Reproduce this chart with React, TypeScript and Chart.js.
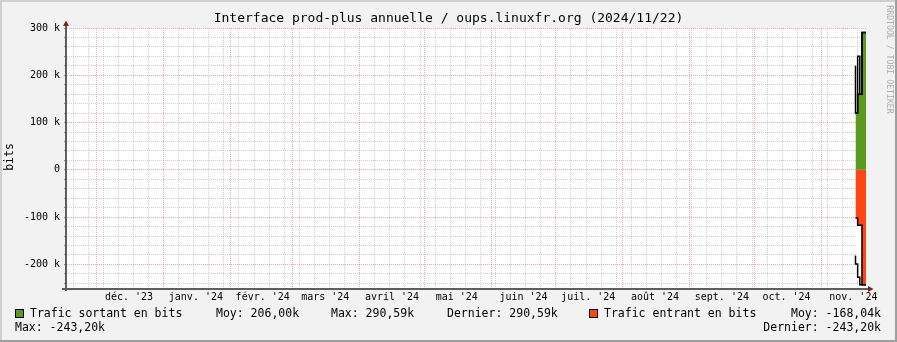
import React, { useEffect, useRef } from 'react';
import { Chart, registerables } from 'chart.js';

Chart.register(...registerables);

const FONT = "'DejaVu Sans Mono', monospace";

const TITLE = 'Interface prod-plus annuelle / oups.linuxfr.org (2024/11/22)';
const Y_TITLE = 'bits';
const WATERMARK = 'RRDTOOL / TOBI OETIKER';

// time window of the graph
const RANGE_START = '2023-11-17T05:00:00Z';
const RANGE_END = '2024-11-21T21:00:00Z';
const FIRST_MONDAY = '2023-11-20T00:00:00Z';

// month grid + labels
const monthStarts = [
  '2023-12-01', '2024-01-01', '2024-02-01', '2024-03-01', '2024-04-01', '2024-05-01',
  '2024-06-01', '2024-07-01', '2024-08-01', '2024-09-01', '2024-10-01', '2024-11-01',
];
const monthLabels = [
  "déc. '23", "janv. '24", "févr. '24", "mars '24", "avril '24", "mai '24",
  "juin '24", "juil. '24", "août '24", "sept. '24", "oct. '24", "nov. '24",
];

// daily samples (start of each 1-day interval)
const sampleTimes = [
  '2024-11-17T00:00:00Z', '2024-11-18T00:00:00Z', '2024-11-19T00:00:00Z',
  '2024-11-20T00:00:00Z', '2024-11-21T00:00:00Z',
];
// sortant (out): peak line and filled area level
const outPeak = [220000, 120000, 240000, 160000, 290590];
const outArea = [120000, 120000, 160000, 160000, 290590];
// entrant (in): peak line and filled area level
const inPeak = [-181000, -199000, -227000, -243200, -243200];
const inArea = [-102000, -102000, -117000, -117000, -243200];

// y axis
const Y_MIN = -250000;
const Y_MAX = 300000;
const Y_MINOR_STEP = 20000;
const Y_MAJOR_STEP = 100000;

// legend
const outLegend = ['Trafic sortant en bits', 'Moy: 206,00k', 'Max: 290,59k', 'Dernier: 290,59k'];
const inLegend = ['Trafic entrant en bits', 'Moy: -168,04k', 'Max: -243,20k', 'Dernier: -243,20k'];

const GREEN = '#5a9a1e';
const RED = '#ff4716';
const MINOR_GRID = 'rgba(150,150,150,0.45)';
const MAJOR_GRID = 'rgba(232,110,110,0.6)';

const DAY = 86400000;
const t = (s: string) => Date.parse(s.length === 10 ? s + 'T00:00:00Z' : s);

const buildSeries = (values: number[]) => {
  const pts = sampleTimes.map((s, i) => ({ x: t(s), y: values[i] }));
  const last = pts[pts.length - 1];
  pts.push({ x: last.x + DAY, y: last.y });
  return pts;
};

const fmtY = (v: number) => (v === 0 ? '0' : `${v / 1000} k`);

const decorPlugin = {
  id: 'rrdDecor',
  beforeDraw(chart: any) {
    const { ctx, chartArea: a, width, height } = chart;
    ctx.save();
    ctx.fillStyle = '#f2f2f2';
    ctx.fillRect(0, 0, width, height);
    ctx.fillStyle = '#ffffff';
    ctx.fillRect(a.left, a.top, a.right - a.left, a.bottom - a.top);
    ctx.restore();
  },
  afterDraw(chart: any) {
    const { ctx, chartArea: a, width, height } = chart;
    ctx.save();
    // frame shading
    ctx.fillStyle = '#cfcfcf';
    ctx.fillRect(0, 0, width, 2);
    ctx.fillRect(0, 0, 2, height);
    ctx.fillStyle = '#9e9e9e';
    ctx.fillRect(0, height - 2, width, 2);
    ctx.fillRect(width - 2, 0, 2, height);

    // axes
    ctx.fillStyle = '#5e5e5e';
    ctx.fillRect(a.left - 2, a.top - 3, 2, a.bottom - a.top + 6);
    ctx.fillRect(a.left - 5, a.bottom, a.right - a.left + 7, 2);
    // arrows
    ctx.fillStyle = '#801f1f';
    ctx.beginPath();
    ctx.moveTo(a.left - 4, a.top - 2);
    ctx.lineTo(a.left + 2, a.top - 2);
    ctx.lineTo(a.left - 1, a.top - 7.5);
    ctx.closePath();
    ctx.fill();
    ctx.beginPath();
    ctx.moveTo(a.right + 2, a.bottom - 2);
    ctx.lineTo(a.right + 2, a.bottom + 4);
    ctx.lineTo(a.right + 7.5, a.bottom + 1);
    ctx.closePath();
    ctx.fill();

    // title
    ctx.fillStyle = '#000';
    ctx.font = `13px ${FONT}`;
    ctx.textAlign = 'center';
    ctx.textBaseline = 'middle';
    ctx.fillText(TITLE, width / 2, 19);

    // y title
    ctx.save();
    ctx.font = `11.5px ${FONT}`;
    ctx.translate(10.5, 157);
    ctx.rotate(-Math.PI / 2);
    ctx.fillText(Y_TITLE, 0, 0);
    ctx.restore();

    // watermark
    ctx.save();
    ctx.fillStyle = '#adadad';
    ctx.font = `8.2px ${FONT}`;
    ctx.translate(889, 59.5);
    ctx.rotate(Math.PI / 2);
    ctx.fillText(WATERMARK, 0, 0);
    ctx.restore();

    // legend
    ctx.font = `11.5px ${FONT}`;
    ctx.textBaseline = 'middle';
    ctx.textAlign = 'left';
    const swatch = (x: number, y: number, c: string) => {
      ctx.fillStyle = c;
      ctx.fillRect(x, y, 9, 9);
      ctx.strokeStyle = '#000';
      ctx.lineWidth = 1;
      ctx.strokeRect(x + 0.5, y + 0.5, 8, 8);
    };
    const r1 = 314.5;
    const r2 = 328.5;
    swatch(15, 309, GREEN);
    ctx.fillStyle = '#000';
    ctx.fillText(outLegend[0], 30, r1);
    ctx.fillText(outLegend[1], 216, r1);
    ctx.fillText(outLegend[2], 331, r1);
    ctx.fillText(outLegend[3], 447, r1);
    swatch(589, 309, RED);
    ctx.fillStyle = '#000';
    ctx.fillText(inLegend[0], 604, r1);
    ctx.textAlign = 'right';
    ctx.fillText(inLegend[1], 881, r1);
    ctx.textAlign = 'left';
    ctx.fillText(inLegend[2], 15, r2);
    ctx.textAlign = 'right';
    ctx.fillText(inLegend[3], 881, r2);
    ctx.restore();
  },
};

const gridAxis = (min: number, max: number, values: number[], color: string) => ({
  type: 'linear',
  position: 'bottom',
  axis: 'x',
  min,
  max,
  bounds: 'data',
  afterBuildTicks: (s: any) => {
    s.ticks = values.map((v) => ({ value: v }));
  },
  afterFit: (s: any) => {
    s.height = 0;
  },
  ticks: { display: false, autoSkip: false },
  grid: { drawTicks: false, lineWidth: 1, color },
  border: { display: false, dash: [1, 1] },
});

export default function App() {
  const ref = useRef<HTMLCanvasElement | null>(null);

  useEffect(() => {
    document.body.style.margin = '0';
    document.body.style.overflow = 'hidden';
    const canvas = ref.current;
    if (!canvas) return;

    const xMin = t(RANGE_START);
    const xMax = t(RANGE_END);
    const monthVals = monthStarts.map((m) => t(m));
    const monthMid = monthVals.map((v) => v + 15 * DAY);
    const weekVals: number[] = [];
    for (let v = t(FIRST_MONDAY); v <= xMax; v += 7 * DAY) {
      if (!monthVals.includes(v)) weekVals.push(v);
    }

    const yTicks: number[] = [];
    for (let v = Math.ceil(Y_MIN / Y_MINOR_STEP) * Y_MINOR_STEP; v <= Y_MAX; v += Y_MINOR_STEP) {
      yTicks.push(v);
    }

    const common = {
      stepped: 'after' as const,
      pointRadius: 0,
      pointHoverRadius: 0,
      borderJoinStyle: 'miter' as const,
      borderCapStyle: 'butt' as const,
    };

    const chart = new Chart(canvas, {
      type: 'line',
      data: {
        datasets: [
          { ...common, data: buildSeries(outArea), borderColor: 'transparent', borderWidth: 0, backgroundColor: GREEN, fill: 'origin', order: 3 },
          { ...common, data: buildSeries(inArea), borderColor: 'transparent', borderWidth: 0, backgroundColor: RED, fill: 'origin', order: 3 },
          { ...common, data: buildSeries(outPeak), borderColor: '#000', borderWidth: 1.5, backgroundColor: '#ffffff', fill: 0, order: 2 },
          { ...common, data: buildSeries(inPeak), borderColor: '#000', borderWidth: 1.5, backgroundColor: '#ffffff', fill: 1, order: 2 },
          { ...common, data: buildSeries(outArea), borderColor: '#000', borderWidth: 1.5, fill: false, order: 1 },
          { ...common, data: buildSeries(inArea), borderColor: '#000', borderWidth: 1.5, fill: false, order: 1 },
        ],
      },
      options: {
        animation: false,
        responsive: false,
        maintainAspectRatio: false,
        devicePixelRatio: 1,
        events: [],
        layout: { padding: { left: 0, top: 28, right: 31, bottom: 0 } },
        plugins: {
          legend: { display: false },
          title: { display: false },
          tooltip: { enabled: false },
          filler: { propagate: false },
        },
        scales: {
          x: {
            type: 'linear',
            position: 'bottom',
            min: xMin,
            max: xMax,
            bounds: 'data',
            afterBuildTicks: (s: any) => {
              s.ticks = monthMid.map((v) => ({ value: v }));
            },
            afterFit: (s: any) => {
              s.height = 54;
            },
            grid: { display: false, drawTicks: false },
            border: { display: false },
            ticks: {
              autoSkip: false,
              maxRotation: 0,
              minRotation: 0,
              padding: 3,
              color: '#000',
              font: { family: FONT, size: 10 },
              callback: (_v: any, i: number) => monthLabels[i],
            },
          },
          xw: gridAxis(xMin, xMax, weekVals, MINOR_GRID),
          xm: gridAxis(xMin, xMax, monthVals, MAJOR_GRID),
          y: {
            type: 'linear',
            min: Y_MIN,
            max: Y_MAX,
            bounds: 'data',
            afterBuildTicks: (s: any) => {
              s.ticks = yTicks.map((v) => ({ value: v }));
            },
            afterFit: (s: any) => {
              s.width = 67;
            },
            ticks: {
              autoSkip: false,
              padding: 4,
              color: '#000',
              font: { family: FONT, size: 10 },
              callback: (v: any) => (Math.abs(Number(v) % Y_MAJOR_STEP) === 0 ? fmtY(Number(v)) : ''),
            },
            grid: {
              drawTicks: true,
              tickLength: 3,
              tickColor: '#888',
              lineWidth: 1,
              color: (c: any) => (c.tick && Math.abs(c.tick.value % Y_MAJOR_STEP) === 0 ? MAJOR_GRID : MINOR_GRID),
            },
            border: { display: false, dash: [1, 1] },
          },
        },
      },
      plugins: [decorPlugin],
    } as any);

    return () => chart.destroy();
  }, []);

  return (
    <div style={{ width: 897, height: 342 }}>
      <canvas ref={ref} width={897} height={342} style={{ display: 'block', width: 897, height: 342 }} />
    </div>
  );
}
